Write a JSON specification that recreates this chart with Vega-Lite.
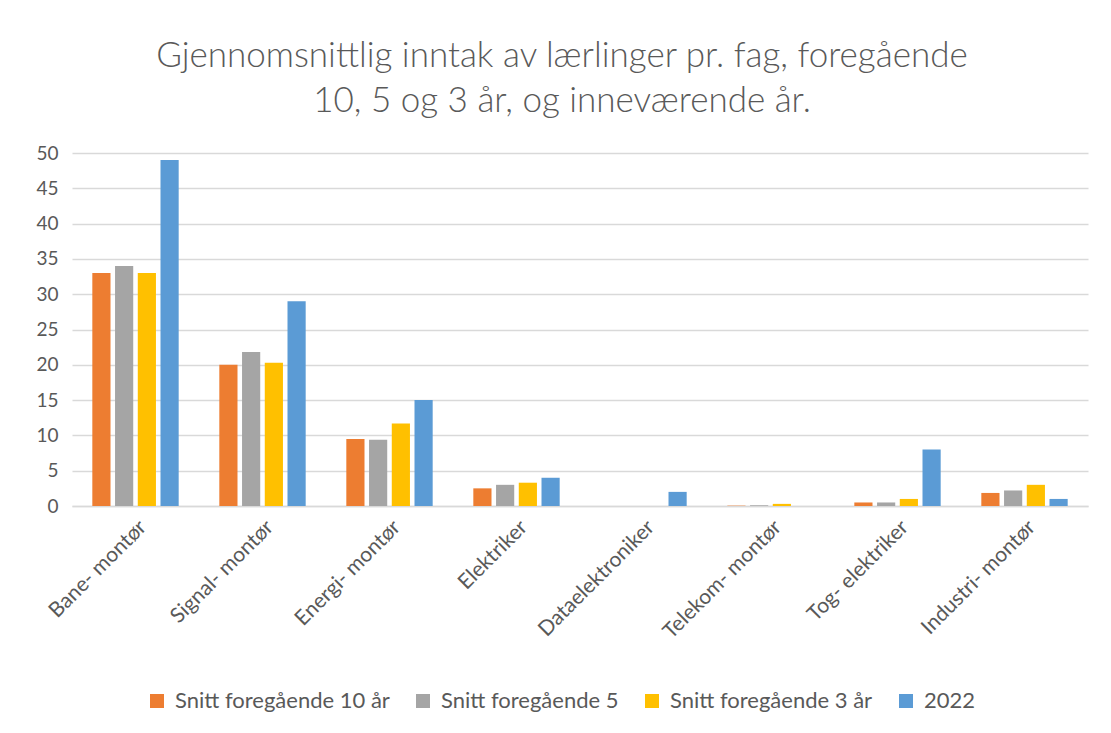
{
  "$schema": "https://vega.github.io/schema/vega-lite/v6.json",
  "autosize": "none",
  "width": 1016,
  "height": 353,
  "padding": {"left": 72, "top": 153, "right": 23, "bottom": 227},
  "background": "white",
  "title": {
    "text": ["Gjennomsnittlig inntak av lærlinger pr. fag, foregående", "10, 5 og 3 år, og inneværende år."],
    "font": "Lato",
    "fontSize": 35,
    "fontWeight": 300,
    "color": "#595959",
    "lineHeight": 45,
    "anchor": "middle",
    "dx": -18,
    "offset": 25
  },
  "data": {
    "values": [
      {"fag": "Bane- montør", "serie": "Snitt foregående 10 år", "verdi": 33},
      {"fag": "Bane- montør", "serie": "Snitt foregående 5", "verdi": 34},
      {"fag": "Bane- montør", "serie": "Snitt foregående 3 år", "verdi": 33},
      {"fag": "Bane- montør", "serie": "2022", "verdi": 49},
      {"fag": "Signal- montør", "serie": "Snitt foregående 10 år", "verdi": 20},
      {"fag": "Signal- montør", "serie": "Snitt foregående 5", "verdi": 21.8},
      {"fag": "Signal- montør", "serie": "Snitt foregående 3 år", "verdi": 20.3},
      {"fag": "Signal- montør", "serie": "2022", "verdi": 29},
      {"fag": "Energi- montør", "serie": "Snitt foregående 10 år", "verdi": 9.5},
      {"fag": "Energi- montør", "serie": "Snitt foregående 5", "verdi": 9.4},
      {"fag": "Energi- montør", "serie": "Snitt foregående 3 år", "verdi": 11.7},
      {"fag": "Energi- montør", "serie": "2022", "verdi": 15},
      {"fag": "Elektriker", "serie": "Snitt foregående 10 år", "verdi": 2.5},
      {"fag": "Elektriker", "serie": "Snitt foregående 5", "verdi": 3},
      {"fag": "Elektriker", "serie": "Snitt foregående 3 år", "verdi": 3.3},
      {"fag": "Elektriker", "serie": "2022", "verdi": 4},
      {"fag": "Dataelektroniker", "serie": "2022", "verdi": 2},
      {"fag": "Telekom- montør", "serie": "Snitt foregående 10 år", "verdi": 0.05},
      {"fag": "Telekom- montør", "serie": "Snitt foregående 5", "verdi": 0.1},
      {"fag": "Telekom- montør", "serie": "Snitt foregående 3 år", "verdi": 0.3},
      {"fag": "Tog- elektriker", "serie": "Snitt foregående 10 år", "verdi": 0.5},
      {"fag": "Tog- elektriker", "serie": "Snitt foregående 5", "verdi": 0.5},
      {"fag": "Tog- elektriker", "serie": "Snitt foregående 3 år", "verdi": 1},
      {"fag": "Tog- elektriker", "serie": "2022", "verdi": 8},
      {"fag": "Industri- montør", "serie": "Snitt foregående 10 år", "verdi": 1.85},
      {"fag": "Industri- montør", "serie": "Snitt foregående 5", "verdi": 2.2},
      {"fag": "Industri- montør", "serie": "Snitt foregående 3 år", "verdi": 3},
      {"fag": "Industri- montør", "serie": "2022", "verdi": 1}
    ]
  },
  "mark": {"type": "bar"},
  "encoding": {
    "x": {
      "field": "fag",
      "type": "nominal",
      "sort": ["Bane- montør", "Signal- montør", "Energi- montør", "Elektriker", "Dataelektroniker", "Telekom- montør", "Tog- elektriker", "Industri- montør"],
      "scale": {"paddingInner": 0.32, "paddingOuter": 0.16},
      "axis": {
        "title": null,
        "labelAngle": -45,
        "labelFont": "Lato",
        "labelFontSize": 21,
        "labelColor": "#595959",
        "labelPadding": 10,
        "labelLimit": 0,
        "ticks": false,
        "domainColor": "#d9d9d9",
        "domainWidth": 1.5
      }
    },
    "xOffset": {
      "field": "serie",
      "type": "nominal",
      "sort": ["Snitt foregående 10 år", "Snitt foregående 5", "Snitt foregående 3 år", "2022"],
      "scale": {"domain": ["Snitt foregående 10 år", "Snitt foregående 5", "Snitt foregående 3 år", "2022"], "paddingInner": 0.2}
    },
    "y": {
      "field": "verdi",
      "type": "quantitative",
      "scale": {"domain": [0, 50]},
      "axis": {
        "title": null,
        "values": [0, 5, 10, 15, 20, 25, 30, 35, 40, 45, 50],
        "labelFont": "Lato",
        "labelFontSize": 19,
        "labelColor": "#595959",
        "labelPadding": 14,
        "ticks": false,
        "domain": false,
        "gridColor": "#d9d9d9",
        "gridWidth": 1.5
      }
    },
    "color": {
      "field": "serie",
      "type": "nominal",
      "sort": ["Snitt foregående 10 år", "Snitt foregående 5", "Snitt foregående 3 år", "2022"],
      "scale": {
        "domain": ["Snitt foregående 10 år", "Snitt foregående 5", "Snitt foregående 3 år", "2022"],
        "range": ["#ED7D31", "#A5A5A5", "#FFC000", "#5B9BD5"]
      },
      "legend": {
        "title": null,
        "orient": "none",
        "legendX": 74,
        "legendY": 537,
        "direction": "horizontal",
        "columns": 4,
        "symbolType": "square",
        "symbolSize": 196,
        "symbolStrokeWidth": 0,
        "labelFont": "Lato",
        "labelFontSize": 22,
        "labelLimit": 0,
        "labelColor": "#595959",
        "columnPadding": 22,
        "labelOffset": 7
      }
    }
  },
  "config": {
    "view": {"stroke": null}
  }
}
